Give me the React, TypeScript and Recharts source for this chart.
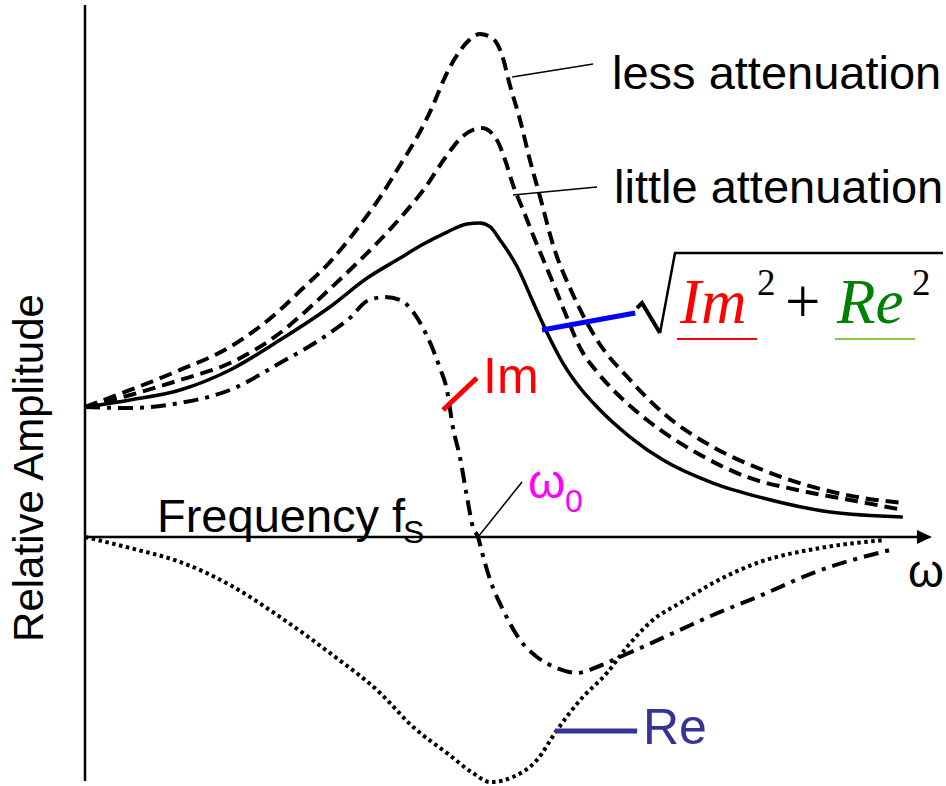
import React from 'react';
import { LineChart, Line, XAxis, YAxis, ReferenceLine, ReferenceDot } from 'recharts';

// frequency in units where the resonance w0 = 10, amplitude where the low-frequency level = 10
const lessFreq = [0, 1.15, 2.42, 3.69, 4.96, 5.47, 6.23, 7.0, 7.51, 8.02, 8.52, 8.86, 9.16, 9.47, 9.75, 10.05, 10.36, 10.61, 10.81, 11.07, 11.32, 11.58, 11.91, 12.42, 13.03, 13.87, 14.71, 15.98, 17.25, 18.52, 19.8, 20.81];
const lessAmp = [10, 11.31, 12.85, 14.62, 17.46, 18.92, 21.15, 24.0, 26.15, 28.62, 31.15, 33.23, 35.38, 37.08, 38.15, 38.69, 38.38, 37.08, 34.77, 32.08, 29.0, 26.15, 22.46, 18.62, 15.15, 12.08, 9.54, 6.92, 5.15, 3.85, 3.0, 2.62];

const littleFreq = [0, 1.15, 2.42, 3.69, 4.96, 5.65, 6.23, 6.87, 7.51, 8.02, 8.65, 9.16, 9.62, 10.1, 10.48, 10.69, 10.89, 11.15, 11.4, 11.91, 12.26, 12.6, 13.03, 13.44, 14.3, 15.57, 16.84, 18.12, 19.47, 20.81];
const littleAmp = [10, 10.92, 12.08, 13.38, 15.69, 17.46, 19.08, 20.92, 22.85, 24.54, 26.85, 29.15, 30.85, 31.46, 30.54, 29.0, 27.08, 25.15, 23.23, 19.54, 16.92, 14.54, 12.69, 11.31, 9.0, 6.46, 4.62, 3.62, 2.85, 2.08];

const magFreq = [0, 1.15, 2.42, 3.69, 4.96, 6.23, 7.18, 8.02, 8.52, 9.16, 9.72, 10.05, 10.31, 10.56, 11.0, 11.4, 11.76, 12.16, 12.6, 13.03, 13.87, 14.71, 15.98, 17.25, 18.96, 20.81];
const magAmp = [10, 10.54, 11.31, 12.85, 15.15, 17.69, 19.92, 21.46, 22.38, 23.38, 24.08, 24.15, 23.85, 22.85, 20.77, 18.08, 15.69, 13.38, 11.46, 10.0, 7.69, 5.92, 4.15, 3.0, 1.92, 1.54];

const imFreq = [0, 1.15, 2.42, 3.69, 4.96, 6.23, 6.74, 7.18, 7.63, 8.02, 8.35, 8.6, 8.86, 9.03, 9.21, 9.36, 9.54, 9.72, 9.87, 10.0, 10.1, 10.31, 10.64, 11.07, 11.5, 12.01, 12.52, 13.03, 13.61, 14.3, 15.14, 15.98, 17.1, 18.65, 20.48];
const imAmp = [10, 9.92, 10.31, 11.31, 13.38, 15.69, 16.85, 18.15, 18.46, 18.23, 17.31, 16.08, 14.38, 13.0, 11.31, 8.46, 6.15, 3.08, 0.77, 0, -1.15, -3.31, -5.62, -7.92, -9.23, -10.08, -10.46, -10.0, -9.23, -8.31, -7.15, -6.0, -4.62, -2.62, -1.0];

const reFreq = [0, 1.15, 2.42, 3.69, 4.96, 6.23, 7.51, 8.35, 9.21, 9.87, 10.31, 10.89, 11.5, 12.01, 12.6, 13.28, 13.79, 14.45, 15.14, 15.98, 17.1, 18.7, 20.36];
const reAmp = [0, -0.85, -1.92, -3.69, -6.15, -8.92, -12.0, -14.62, -16.62, -18.15, -18.85, -18.46, -17.15, -14.85, -12.54, -10.46, -8.46, -6.38, -5.08, -3.54, -2.0, -0.85, -0.23];

const W = 946;
const H = 786;

const zip = (f: number[], a: number[]) => f.map((w, i) => ({ w, a: a[i] }));

const curves = [
  { key: 'less', data: zip(lessFreq, lessAmp), dash: '13 7', width: 4 },
  { key: 'little', data: zip(littleFreq, littleAmp), dash: '13 7', width: 4 },
  { key: 'mag', data: zip(magFreq, magAmp), dash: undefined, width: 3.5 },
  { key: 'im', data: zip(imFreq, imAmp), dash: '15 7 4 7', width: 4 },
  { key: 're', data: zip(reFreq, reAmp), dash: '3.5 3.5', width: 4 },
];

// leader lines from the labels to the curves
const leaders = [
  { from: [10.87, 35.38], to: [12.93, 36.38], color: '#000', width: 1.5 },
  { from: [10.89, 26.31], to: [13.03, 26.92], color: '#000', width: 1.5 },
  { from: [9.11, 9.77], to: [9.97, 12.23], color: '#ff0000', width: 5 },
  { from: [10.0, 0], to: [11.12, 4.23], color: '#000', width: 1.5 },
  { from: [11.63, 15.92], to: [14.0, 17.23], color: '#0000ff', width: 5 },
  { from: [11.96, -14.92], to: [14.05, -14.92], color: '#333399', width: 5 },
];

const sans = '"Liberation Sans", Arial, sans-serif';
const serif = '"Liberation Serif", "Times New Roman", serif';

const Arrow = (p: any) => (
  <polygon points={`${p.cx},${p.cy} ${p.cx - 15},${p.cy - 7} ${p.cx - 15},${p.cy + 7}`} fill="#000" />
);

export default function App() {
  return (
    <div style={{ position: 'absolute', left: 0, top: 0, width: W, height: H, background: '#fff' }}>
      <LineChart width={W} height={H} margin={{ top: 0, right: 0, bottom: 0, left: 0 }}>
        <XAxis type="number" dataKey="w" domain={[-2.163, 21.908]} hide allowDataOverflow />
        <YAxis type="number" domain={[-19.154, 41.308]} hide allowDataOverflow />
        <ReferenceLine segment={[{ x: 0, y: 40.92 }, { x: 0, y: -18.77 }]} stroke="#000" strokeWidth={2.5} />
        <ReferenceLine segment={[{ x: 0, y: 0 }, { x: 21.2, y: 0 }]} stroke="#000" strokeWidth={2.5} />
        <ReferenceDot x={21.55} y={0} shape={Arrow} />
        {curves.map((c) => (
          <Line
            key={c.key}
            data={c.data}
            dataKey="a"
            type="monotone"
            stroke="#000"
            strokeWidth={c.width}
            strokeDasharray={c.dash}
            strokeLinecap="butt"
            dot={false}
            activeDot={false}
            isAnimationActive={false}
          />
        ))}
        {leaders.map((l, i) => (
          <ReferenceLine
            key={i}
            segment={[{ x: l.from[0], y: l.from[1] }, { x: l.to[0], y: l.to[1] }]}
            stroke={l.color}
            strokeWidth={l.width}
          />
        ))}
      </LineChart>
      <svg width={W} height={H} style={{ position: 'absolute', left: 0, top: 0, pointerEvents: 'none' }}>
        <g fontFamily={sans}>
          <text x={43} y={468} fontSize={42} textAnchor="middle" transform="rotate(-90 43 468)">Relative Amplitude</text>
          <text x={612} y={89} fontSize={47}>less attenuation</text>
          <text x={614} y={203} fontSize={47}>little attenuation</text>
          <text x={157} y={532} fontSize={47}>Frequency f</text>
          <text x={403} y={543} fontSize={32}>S</text>
          <text x={483} y={393} fontSize={50} fill="#ff0000">Im</text>
          <text x={643} y={744} fontSize={50} fill="#333399">Re</text>
          <text x={528} y={498} fontSize={48} fill="#ff00ff">ω</text>
          <text x={565} y={512} fontSize={32} fill="#ff00ff">0</text>
          <text x={908} y={587} fontSize={46}>ω</text>
        </g>
        <g fontFamily={serif}>
          <text x={680} y={323} fontSize={63} fontStyle="italic" fill="#ff0000">Im</text>
          <text x={757} y={295} fontSize={37}>2</text>
          <text x={785} y={323} fontSize={63}>+</text>
          <text x={837} y={323} fontSize={63} fontStyle="italic" fill="#008000">Re</text>
          <text x={912} y={295} fontSize={37}>2</text>
        </g>
        <line x1={677} y1={339} x2={757} y2={339} stroke="#ff0000" strokeWidth={2} />
        <line x1={835} y1={339} x2={915} y2={339} stroke="#80cc40" strokeWidth={2} />
        <polyline points="637,308 642,303 660,333" fill="none" stroke="#000" strokeWidth={4} />
        <polyline points="660,333 675,253 943,253" fill="none" stroke="#000" strokeWidth={2.5} />
      </svg>
    </div>
  );
}
